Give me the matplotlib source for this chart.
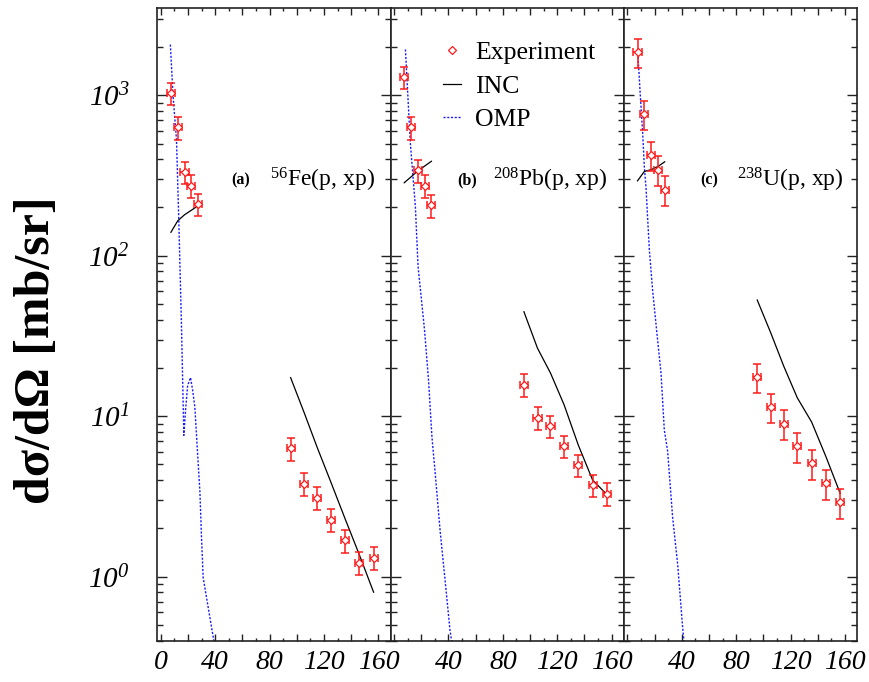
import math
import matplotlib
matplotlib.use('Agg')
import matplotlib.pyplot as plt
from matplotlib.ticker import MultipleLocator, LogLocator, FuncFormatter, NullFormatter
from matplotlib.lines import Line2D

plt.rcParams['font.family'] = ['Liberation Serif', 'DejaVu Serif']
plt.rcParams['mathtext.fontset'] = 'custom'
plt.rcParams['mathtext.rm'] = 'Liberation Serif:italic'
plt.rcParams['mathtext.it'] = 'Liberation Serif:italic'
plt.rcParams['mathtext.sf'] = 'Liberation Serif'
plt.rcParams['mathtext.bf'] = 'Liberation Serif:bold'

# ---------------- data ----------------
angles_low = [7.5, 12.5, 17.5, 22.5, 27.5]
angles_high = [95.5, 105.5, 115, 125, 135.5, 146, 156.5]

exp_fe_low = [1035, 631, 332, 273, 210]
exp_fe_high = [6.3, 3.8, 3.1, 2.26, 1.68, 1.22, 1.31]
exp_pb_low = [1300, 630, 340, 274, 206]
exp_pb_high = [15.7, 9.8, 8.7, 6.5, 4.96, 3.72, 3.29]
exp_u_low = [1860, 766, 425, 344, 258]
exp_u_high = [17.6, 11.4, 9.0, 6.5, 5.1, 3.83, 2.9]
rel_err = [0.16, 0.16, 0.21]          # relative errors of Fe, Pb, U data
angle_err = 3.0

inc_fe_low = [140, 165, 180, 192, 205]
inc_fe_high = [17.4, 10.5, 6.4, 3.9, 2.3, 1.37, 0.8]
inc_pb_low = [285, 310, 338, 362, 388]
inc_pb_high = [44.8, 26.5, 18.6, 11.8, 6.6, 4.0, 3.25]
inc_u_low = [293, 335, 344, 360, 385]
inc_u_high = [53, 33, 20.5, 13, 9.2, 5.6, 3.3]

omp_fe_angles = [7.1, 9.1, 11.6, 13.3, 15.3, 17.0, 18.3, 19.8, 21.9, 23.5, 25.1,
                 26.8, 28.8, 30.0, 31.2, 33.7, 38.6, 40.0]
omp_fe_vals = [2070, 985, 530, 166, 36, 7.6, 11, 15.5, 17.4, 14.5, 11.4,
               6.5, 3.4, 1.76, 0.99, 0.74, 0.42, 0.36]
omp_pb_angles = [8.4, 12.0, 15.7, 17.7, 22.5, 25.4, 27.9, 30.3, 33.9, 37.6, 41.2, 43.0]
omp_pb_vals = [1930, 505, 203, 85.5, 34, 16.7, 7.4, 4.4, 1.93, 0.94, 0.46, 0.37]
omp_u_angles = [7.6, 9.3, 11.3, 12.5, 13.7, 16.2, 18.6, 21.6, 24.8, 27.2, 29.6,
                33.3, 37.0, 40.7, 42.0]
omp_u_vals = [1930, 1086, 582, 360, 270, 109, 61, 34, 18.5, 8.2, 6.1,
              2.35, 1.2, 0.48, 0.37]

panel_tags = ['(a)', '(b)', '(c)']
panel_reactions = [r'$^{\mathsf{56}}$Fe(p, xp)', r'$^{\mathsf{208}}$Pb(p, xp)',
                   r'$^{\mathsf{238}}$U(p, xp)']
x_ticklabels = [0, 40, 80, 120, 160]
legend_labels = ['Experiment', 'INC', 'OMP']
y_label = 'dσ/dΩ [mb/sr]'

panels = [
    dict(el=exp_fe_low, eh=exp_fe_high, il=inc_fe_low, ih=inc_fe_high,
         oa=omp_fe_angles, ov=omp_fe_vals),
    dict(el=exp_pb_low, eh=exp_pb_high, il=inc_pb_low, ih=inc_pb_high,
         oa=omp_pb_angles, ov=omp_pb_vals),
    dict(el=exp_u_low, eh=exp_u_high, il=inc_u_low, ih=inc_u_high,
         oa=omp_u_angles, ov=omp_u_vals),
]

# ---------------- layout ----------------
W, H = 870, 682
fig = plt.figure(figsize=(W / 100, H / 100), dpi=100)
left_px, width_px, top_px, bottom_px = 157.3, 233.3, 8.0, 640.5
tag_x = [0.358, 0.328, 0.366]
react_x = [0.483, 0.437, 0.484]

red = '#ff1a1a'
blue = '#1a1aff'
axes = []
for i, p in enumerate(panels):
    ax = fig.add_axes([(left_px + i * width_px) / W, (H - bottom_px) / H,
                       width_px / W, (bottom_px - top_px) / H])
    axes.append(ax)
    ax.set_yscale('log')
    ax.set_xlim(-2.5, 169)
    ax.set_ylim(0.4, 3500)

    # OMP
    ax.plot(p['oa'], p['ov'], color=blue, ls=(0, (1.5, 1.2)), lw=1.0)
    # INC
    ax.plot(angles_low, p['il'], color='black', lw=0.9)
    ax.plot(angles_high, p['ih'], color='black', lw=0.9)
    # Experiment
    for xs, ys in ((angles_low, p['el']), (angles_high, p['eh'])):
        yerr = [rel_err[i] * v for v in ys]
        ax.errorbar(xs, ys, yerr=yerr, xerr=angle_err, fmt='none', ecolor=red,
                    elinewidth=1.1, capsize=3.2, capthick=1.1, zorder=3)
        ax.plot(xs, ys, ls='none', marker='D', ms=3.6, mfc='white', mec=red,
                mew=0.9, zorder=4)

    ax.text(tag_x[i], 0.728, panel_tags[i], transform=ax.transAxes, ha='center',
            va='center', fontweight='bold', fontsize=11.5)
    ax.text(react_x[i], 0.728, panel_reactions[i], transform=ax.transAxes,
            ha='left', va='center', fontsize=17)

    # ticks
    ax.xaxis.set_major_locator(MultipleLocator(20))
    ax.xaxis.set_minor_locator(MultipleLocator(10))
    first = (i == 0)

    def xfmt(v, pos, first=first):
        iv = int(round(v))
        if iv in x_ticklabels and (first or iv != 0):
            return str(iv)
        return ''
    ax.xaxis.set_major_formatter(FuncFormatter(xfmt))
    ax.yaxis.set_major_locator(LogLocator(base=10, numticks=10))
    ax.yaxis.set_minor_locator(LogLocator(base=10, subs=range(2, 10), numticks=20))
    ax.yaxis.set_minor_formatter(NullFormatter())
    if first:
        ax.yaxis.set_major_formatter(FuncFormatter(
            lambda v, pos: r'$10^{%d}$' % round(math.log10(v))))
    else:
        ax.yaxis.set_major_formatter(NullFormatter())

    ax.tick_params(axis='both', which='both', direction='in', top=True, right=True,
                   color='#222222', width=1.0)
    ax.tick_params(axis='x', which='major', length=5, pad=7, labelsize=20)
    ax.tick_params(axis='x', which='minor', length=2.5)
    ax.tick_params(axis='y', which='major', length=7, pad=20, labelsize=21)
    ax.tick_params(axis='y', which='minor', length=4.5)
    for lab in ax.get_xticklabels():
        lab.set_fontstyle('italic')
    for s in ax.spines.values():
        s.set_linewidth(1.2)
        s.set_color('#222222')

# legend on panel b
handles = [Line2D([], [], ls='none', marker='D', ms=3.6, mfc='white', mec=red, mew=0.9),
           Line2D([], [], color='black', lw=0.9),
           Line2D([], [], color=blue, ls=(0, (1.5, 1.2)), lw=1.0)]
axes[1].legend(handles, legend_labels, loc='upper left', bbox_to_anchor=(0.225, 0.948),
               frameon=False, fontsize=18.5, handlelength=0.7, handletextpad=0.55,
               labelspacing=0.42, borderpad=0, borderaxespad=0)

fig.text(37 / W, 1 - 350 / H, y_label, rotation=90, ha='center', va='center',
         fontsize=36, fontweight='bold')

fig.savefig('out.png', dpi=100, facecolor='white')
